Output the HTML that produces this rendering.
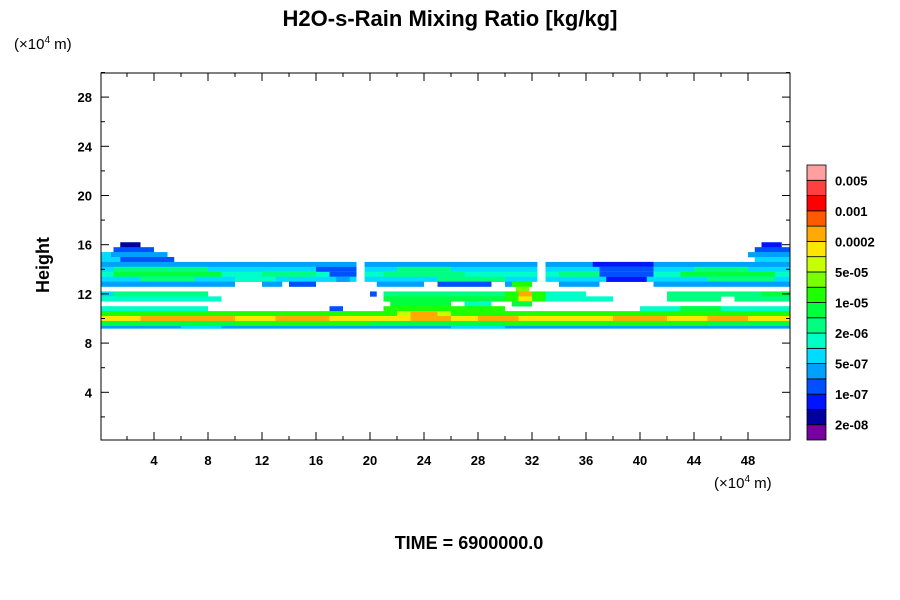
<!DOCTYPE html>
<html><head><meta charset="utf-8"><style>
body{margin:0;background:#fff;}
svg{display:block;font-family:"Liberation Sans",sans-serif;}
</style></head><body>
<svg id="chart" width="900" height="600" viewBox="0 0 900 600">
<text x="450" y="26" text-anchor="middle" font-size="22" font-weight="bold">H2O-s-Rain Mixing Ratio [kg/kg]</text>
<text x="14" y="49" font-size="15">(×10<tspan font-size="10" dy="-6">4</tspan><tspan dy="6"> m)</tspan></text>
<text x="714" y="488" font-size="15">(×10<tspan font-size="10" dy="-6">4</tspan><tspan dy="6"> m)</tspan></text>
<text transform="translate(49,265) rotate(-90)" text-anchor="middle" font-size="18" font-weight="bold">Height</text>
<text x="469" y="549" text-anchor="middle" font-size="18" font-weight="bold">TIME = 6900000.0</text>
<defs><clipPath id="pc"><rect x="101" y="73" width="689" height="367"/></clipPath></defs>
<g id="field" clip-path="url(#pc)"></g>
<g id="axes"></g>
<g id="cbar"></g>
</svg>
<script>
const levelColors=["#7800a0","#0000a0","#0014ff","#0050ff","#00a0ff","#00dcff","#00ffc8","#00ff80","#00ff3c","#1eff00","#78ff00","#c8ff00","#ffe600","#ffaa00","#ff5a00","#ff0000","#ff4040","#ffa0a0"];
const cbarLabels=["0.005","0.001","0.0002","5e-05","1e-05","2e-06","5e-07","1e-07","2e-08"];
const yTicks=[4,8,12,16,20,24,28];
const xTicks=[4,8,12,16,20,24,28,32,36,40,44,48];
const bandBottoms=[15.8,15.4,15.0,14.6,14.2,13.8,13.4,13.0,12.6,12.2,11.8,11.4,11.0,10.6,10.2,9.8,9.4,9.2];
const bandTops=[16.2,15.8,15.4,15.0,14.6,14.2,13.8,13.4,13.0,12.6,12.2,11.8,11.4,11.0,10.6,10.2,9.8,9.4];
const bandSegs=[
 [[1.5,3,1],[49,50.5,2]],
 [[1,4,3],[48.5,51.4,3]],
 [[0,0.8,5],[0.8,5,4],[48,51.4,4]],
 [[0,1.5,5],[1.5,5.5,3],[48.5,51.4,5]],
 [[0,19,4],[19.6,32.4,4],[33,51.4,4],[36.5,41,2]],
 [[0,19,5],[19.6,32.4,5],[33,51.4,5],[16,19,3],[37,41,3],[1,8,7],[22,26,7],[44,48,7]],
 [[0,19,6],[19.6,32.4,6],[33,51.4,6],[1,9,8],[12,16,7],[21,27,7],[34,37,7],[43,50,8],[37,41,3],[17,19,3]],
 [[0,19,5],[19.6,32.4,5],[33,51.4,5],[3,7,7],[10,13,6],[25,30,7],[37.5,40.5,2],[17.5,18.5,4],[45,50,7]],
 [[0,10,4],[12,13.5,4],[14,16,3],[20.5,24,4],[25,29,3],[30,32,4],[34,37,4],[41,51.4,4],[30.5,32,9]],
 [[30.8,31.8,10]],
 [[0,1,5],[1,8,7],[20,20.5,3],[21,30,7],[30,33,9],[31,32,13],[33,36,6],[42,49,7],[49,51.4,8]],
 [[0,9,6],[21,30,8],[30,33,9],[31,32,12],[33,38,6],[42,46,7],[47,51.4,7]],
 [[21.5,26,8],[27,29,6],[30.5,32,8]],
 [[0,8,6],[17,18,3],[21,30,9],[40,51.4,6],[43,46,8]],
 [[0,51.4,9],[22,26,11],[23,25,13]],
 [[0,51.4,12],[3,10,13],[13,17,13],[23,26,13],[28,31,13],[38,42,13],[45,48,13]],
 [[0,51.4,8],[10,20,9],[30,45,9]],
 [[0,51.4,4],[6,9,5],[26,30,5]]
];
const NS="http://www.w3.org/2000/svg";
const sx=v=>100+v*13.5, sy=h=>441.5-h*12.3;
const field=document.getElementById('field');
bandSegs.forEach((segs,i)=>{segs.forEach(s=>{
 const r=document.createElementNS(NS,'rect');
 r.setAttribute('x',sx(s[0]));r.setAttribute('width',sx(s[1])-sx(s[0]));
 r.setAttribute('y',sy(bandTops[i]));r.setAttribute('height',sy(bandBottoms[i])-sy(bandTops[i])+0.3);
 r.setAttribute('fill',levelColors[s[2]]);
 
 
 field.appendChild(r);});});
const axes=document.getElementById('axes');
function line(x1,y1,x2,y2){const l=document.createElementNS(NS,'line');l.setAttribute('x1',x1);l.setAttribute('y1',y1);l.setAttribute('x2',x2);l.setAttribute('y2',y2);l.setAttribute('stroke','#000');l.setAttribute('stroke-width','1');
 
 
 axes.appendChild(l);}
function txt(x,y,s,anchor,size){const t=document.createElementNS(NS,'text');t.setAttribute('x',x);t.setAttribute('y',y);t.setAttribute('text-anchor',anchor);t.setAttribute('font-size',size);t.setAttribute('font-weight','bold');t.textContent=s;
 
 
 axes.appendChild(t);return t;}
const fr=document.createElementNS(NS,'rect');
fr.setAttribute('x',101);fr.setAttribute('y',73);fr.setAttribute('width',689);fr.setAttribute('height',367);fr.setAttribute('fill','none');fr.setAttribute('stroke','#000');


axes.appendChild(fr);
yTicks.forEach(v=>{const y=sy(v);line(101,y,109,y);line(782,y,790,y);line(101,y-24.6,105,y-24.6);line(786,y-24.6,790,y-24.6);txt(92,y+5,String(v),'end',13);});
line(101,sy(2),105,sy(2));line(786,sy(2),790,sy(2));
xTicks.forEach(v=>{const x=sx(v);line(x,440,x,432);line(x,73,x,81);line(x-27,440,x-27,436);line(x-27,73,x-27,77);txt(x,465,String(v),'middle',13);});
const cb=document.getElementById('cbar');
const bh=275/levelColors.length;
for(let i=0;i<levelColors.length;i++){const r=document.createElementNS(NS,'rect');
 r.setAttribute('x',807);r.setAttribute('y',440-(i+1)*bh);r.setAttribute('width',19);r.setAttribute('height',bh);
 r.setAttribute('fill',levelColors[i]);r.setAttribute('stroke','#000');r.setAttribute('stroke-width','0.8');
 
 
 cb.appendChild(r);}
cbarLabels.forEach((s,k)=>{const t=document.createElementNS(NS,'text');t.setAttribute('x',835);t.setAttribute('y',165+(2*k+1)*bh+5);t.setAttribute('font-size',13);t.setAttribute('font-weight','bold');t.textContent=s;
 
 
 cb.appendChild(t);});
</script>
</body></html>
